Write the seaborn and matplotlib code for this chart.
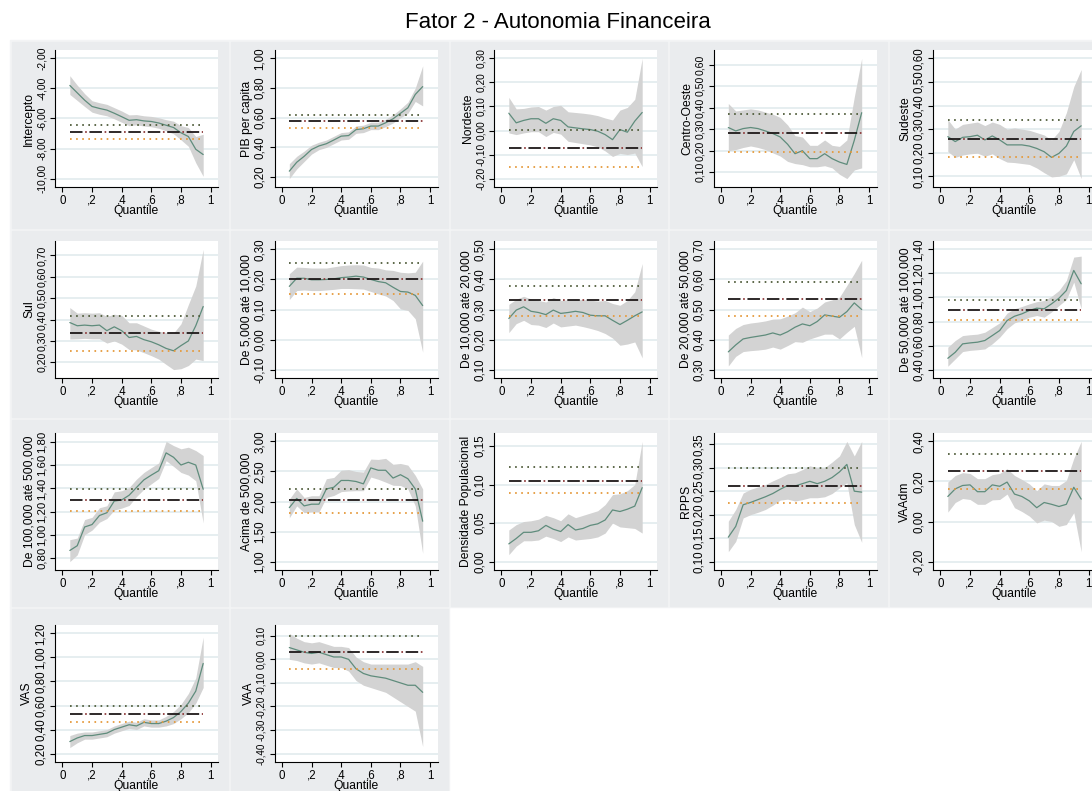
import numpy as np
import pandas as pd
import matplotlib
matplotlib.use("Agg")
import matplotlib.pyplot as plt
from matplotlib.patches import Rectangle
import seaborn as sns

# ---------------------------------------------------------------- data
QUANTILES = [0.05, 0.10, 0.15, 0.20, 0.25, 0.30, 0.35, 0.40, 0.45, 0.50,
             0.55, 0.60, 0.65, 0.70, 0.75, 0.80, 0.85, 0.90, 0.95]

LABELS = ["Intercepto", "PIB per capita", "Nordeste", "Centro-Oeste", "Sudeste",
          "Sul", "De 5,000 até 10,000", "De 10,000 até 20,000", "De 20,000 até 50,000",
          "De 50,000 até 100,000", "De 100,000 até 500,000", "Acima de 500,000",
          "Densidade Populacional", "RPPS", "VAAdm", "VAS", "VAA"]

# OLS estimate and its confidence interval, one entry per variable
OLS_COEF = [-6.91, 0.580, -0.073, 0.283, 0.260, 0.335, 0.202, 0.331, 0.535, 0.894,
            1.300, 2.017, 0.104, 0.261, 0.251, 0.530, 0.030]
OLS_LO = [-7.36, 0.528, -0.150, 0.194, 0.181, 0.251, 0.152, 0.279, 0.479, 0.814,
          1.201, 1.814, 0.089, 0.225, 0.163, 0.460, -0.040]
OLS_HI = [-6.42, 0.620, 0.003, 0.370, 0.337, 0.417, 0.256, 0.379, 0.592, 0.978,
          1.393, 2.209, 0.123, 0.299, 0.337, 0.600, 0.100]

YTICKS = [
    [-10, -8, -6, -4, -2],
    [0.2, 0.4, 0.6, 0.8, 1.0],
    [-0.2, -0.1, 0.0, 0.1, 0.2, 0.3],
    [0.1, 0.2, 0.3, 0.4, 0.5, 0.6],
    [0.1, 0.2, 0.3, 0.4, 0.5, 0.6],
    [0.2, 0.3, 0.4, 0.5, 0.6, 0.7],
    [-0.1, 0.0, 0.1, 0.2, 0.3],
    [0.1, 0.2, 0.3, 0.4, 0.5],
    [0.3, 0.4, 0.5, 0.6, 0.7],
    [0.4, 0.6, 0.8, 1.0, 1.2, 1.4],
    [0.8, 1.0, 1.2, 1.4, 1.6, 1.8],
    [1.0, 1.5, 2.0, 2.5, 3.0],
    [0.0, 0.05, 0.10, 0.15],
    [0.10, 0.15, 0.20, 0.25, 0.30, 0.35],
    [-0.2, 0.0, 0.2, 0.4],
    [0.2, 0.4, 0.6, 0.8, 1.0, 1.2],
    [-0.4, -0.3, -0.2, -0.1, 0.0, 0.1],
]

# quantile-regression coefficients with lower / upper confidence bounds
intercepto = [-3.80, -4.29, -4.78, -5.20, -5.33, -5.44, -5.65, -5.88, -6.12, -6.08, -6.16, -6.20, -6.30, -6.45, -6.60, -6.95, -7.20, -8.05, -8.40]
intercepto_lo = [-4.40, -4.80, -5.20, -5.58, -5.72, -5.82, -6.02, -6.25, -6.48, -6.42, -6.50, -6.55, -6.65, -6.82, -7.02, -7.42, -7.85, -8.95, -9.85]
intercepto_hi = [-3.15, -3.78, -4.35, -4.82, -4.95, -5.06, -5.28, -5.50, -5.76, -5.74, -5.82, -5.86, -5.95, -6.08, -6.18, -6.48, -6.60, -7.20, -7.05]

pib = [0.24, 0.30, 0.34, 0.386, 0.41, 0.425, 0.45, 0.476, 0.48, 0.52, 0.526, 0.544, 0.544, 0.566, 0.593, 0.63, 0.667, 0.757, 0.81]
pib_lo = [0.19, 0.255, 0.305, 0.355, 0.385, 0.40, 0.425, 0.45, 0.455, 0.495, 0.50, 0.52, 0.52, 0.54, 0.565, 0.60, 0.63, 0.71, 0.68]
pib_hi = [0.29, 0.34, 0.375, 0.415, 0.435, 0.45, 0.475, 0.50, 0.505, 0.545, 0.55, 0.57, 0.57, 0.59, 0.62, 0.66, 0.705, 0.80, 0.95]

nordeste = [0.072, 0.032, 0.042, 0.049, 0.049, 0.030, 0.049, 0.042, 0.015, 0.011, 0.007, 0.004, -0.003, -0.017, -0.038, 0.004, -0.007, 0.039, 0.075]
nordeste_lo = [-0.010, -0.017, -0.010, -0.005, -0.005, -0.025, -0.008, -0.015, -0.045, -0.050, -0.055, -0.060, -0.068, -0.085, -0.108, -0.095, -0.100, -0.094, -0.150]
nordeste_hi = [0.138, 0.090, 0.092, 0.098, 0.100, 0.085, 0.100, 0.105, 0.078, 0.075, 0.072, 0.068, 0.062, 0.052, 0.044, 0.085, 0.096, 0.130, 0.300]

centro_oeste = [0.308, 0.292, 0.303, 0.308, 0.303, 0.292, 0.280, 0.264, 0.230, 0.186, 0.200, 0.163, 0.163, 0.186, 0.163, 0.147, 0.136, 0.248, 0.377]
centro_oeste_lo = [0.200, 0.205, 0.215, 0.222, 0.215, 0.205, 0.190, 0.175, 0.150, 0.140, 0.135, 0.125, 0.125, 0.130, 0.120, 0.090, 0.070, 0.110, 0.120]
centro_oeste_hi = [0.420, 0.385, 0.390, 0.395, 0.390, 0.380, 0.370, 0.355, 0.320, 0.270, 0.264, 0.225, 0.225, 0.250, 0.225, 0.220, 0.250, 0.450, 0.630]

sudeste = [0.268, 0.247, 0.265, 0.268, 0.274, 0.254, 0.271, 0.254, 0.233, 0.233, 0.233, 0.228, 0.218, 0.204, 0.180, 0.197, 0.228, 0.290, 0.314]
sudeste_lo = [0.205, 0.180, 0.190, 0.195, 0.198, 0.185, 0.195, 0.175, 0.160, 0.158, 0.154, 0.150, 0.135, 0.115, 0.097, 0.100, 0.110, 0.170, 0.090]
sudeste_hi = [0.340, 0.300, 0.320, 0.325, 0.330, 0.315, 0.330, 0.320, 0.300, 0.305, 0.300, 0.295, 0.285, 0.275, 0.254, 0.290, 0.370, 0.480, 0.553]

sul = [0.386, 0.371, 0.374, 0.371, 0.374, 0.348, 0.366, 0.348, 0.316, 0.321, 0.306, 0.296, 0.282, 0.265, 0.254, 0.278, 0.300, 0.371, 0.461]
sul_lo = [0.309, 0.310, 0.312, 0.310, 0.310, 0.290, 0.300, 0.285, 0.260, 0.258, 0.245, 0.231, 0.215, 0.190, 0.166, 0.170, 0.185, 0.215, 0.208]
sul_hi = [0.456, 0.430, 0.432, 0.430, 0.432, 0.415, 0.425, 0.420, 0.385, 0.385, 0.370, 0.355, 0.345, 0.340, 0.337, 0.380, 0.470, 0.557, 0.728]

pop_5_10 = [0.177, 0.204, 0.204, 0.199, 0.199, 0.200, 0.202, 0.206, 0.208, 0.211, 0.208, 0.200, 0.193, 0.189, 0.174, 0.160, 0.158, 0.147, 0.113]
pop_5_10_lo = [0.133, 0.163, 0.165, 0.163, 0.163, 0.165, 0.167, 0.170, 0.170, 0.169, 0.168, 0.160, 0.152, 0.145, 0.130, 0.102, 0.097, 0.069, -0.042]
pop_5_10_hi = [0.219, 0.241, 0.240, 0.238, 0.238, 0.238, 0.242, 0.246, 0.248, 0.249, 0.248, 0.240, 0.238, 0.232, 0.230, 0.224, 0.222, 0.224, 0.261]

pop_10_20 = [0.270, 0.298, 0.309, 0.294, 0.290, 0.283, 0.298, 0.287, 0.290, 0.294, 0.290, 0.281, 0.279, 0.279, 0.264, 0.250, 0.264, 0.279, 0.292]
pop_10_20_lo = [0.223, 0.253, 0.264, 0.250, 0.248, 0.240, 0.255, 0.242, 0.245, 0.248, 0.243, 0.237, 0.230, 0.220, 0.205, 0.181, 0.185, 0.192, 0.139]
pop_10_20_hi = [0.317, 0.334, 0.344, 0.335, 0.330, 0.325, 0.340, 0.330, 0.332, 0.335, 0.333, 0.331, 0.328, 0.330, 0.320, 0.314, 0.330, 0.359, 0.453]

pop_20_50 = [0.359, 0.382, 0.402, 0.407, 0.411, 0.415, 0.422, 0.415, 0.426, 0.441, 0.452, 0.446, 0.460, 0.482, 0.478, 0.474, 0.493, 0.522, 0.500]
pop_20_50_lo = [0.312, 0.344, 0.360, 0.363, 0.365, 0.368, 0.375, 0.368, 0.380, 0.393, 0.391, 0.402, 0.410, 0.418, 0.418, 0.402, 0.424, 0.444, 0.340]
pop_20_50_hi = [0.415, 0.437, 0.450, 0.455, 0.458, 0.462, 0.468, 0.469, 0.478, 0.489, 0.508, 0.493, 0.505, 0.525, 0.532, 0.541, 0.580, 0.620, 0.664]

pop_50_100 = [0.494, 0.544, 0.614, 0.622, 0.628, 0.642, 0.683, 0.725, 0.808, 0.844, 0.864, 0.892, 0.911, 0.906, 0.947, 0.994, 1.058, 1.225, 1.114]
pop_50_100_lo = [0.428, 0.489, 0.550, 0.560, 0.565, 0.572, 0.615, 0.669, 0.740, 0.789, 0.810, 0.836, 0.850, 0.836, 0.880, 0.933, 0.983, 1.128, 0.906]
pop_50_100_hi = [0.586, 0.642, 0.683, 0.690, 0.695, 0.711, 0.750, 0.789, 0.870, 0.906, 0.925, 0.947, 0.965, 0.975, 1.010, 1.058, 1.142, 1.336, 1.344]

pop_100_500 = [0.864, 0.905, 1.067, 1.088, 1.166, 1.190, 1.291, 1.300, 1.341, 1.408, 1.474, 1.515, 1.553, 1.707, 1.669, 1.602, 1.626, 1.602, 1.393]
pop_100_500_lo = [0.768, 0.826, 1.000, 1.040, 1.108, 1.140, 1.213, 1.230, 1.253, 1.330, 1.393, 1.440, 1.486, 1.640, 1.590, 1.538, 1.515, 1.466, 1.102]
pop_100_500_hi = [0.957, 0.971, 1.131, 1.150, 1.233, 1.250, 1.370, 1.380, 1.408, 1.480, 1.538, 1.580, 1.620, 1.806, 1.770, 1.742, 1.756, 1.727, 1.684]

pop_500 = [1.898, 2.051, 1.927, 1.955, 1.955, 2.209, 2.237, 2.350, 2.350, 2.333, 2.294, 2.559, 2.520, 2.520, 2.390, 2.446, 2.379, 2.209, 1.672]
pop_500_lo = [1.729, 1.927, 1.814, 1.825, 1.825, 2.068, 2.100, 2.164, 2.175, 2.180, 2.180, 2.407, 2.370, 2.322, 2.270, 2.266, 2.209, 1.927, 1.136]
pop_500_hi = [2.040, 2.209, 2.068, 2.096, 2.096, 2.379, 2.400, 2.520, 2.530, 2.500, 2.490, 2.706, 2.700, 2.718, 2.620, 2.633, 2.605, 2.435, 2.209]

densidade = [0.023, 0.030, 0.038, 0.038, 0.040, 0.047, 0.042, 0.039, 0.048, 0.041, 0.043, 0.047, 0.049, 0.054, 0.067, 0.065, 0.068, 0.072, 0.096]
densidade_lo = [0.009, 0.020, 0.027, 0.027, 0.028, 0.033, 0.030, 0.026, 0.032, 0.028, 0.029, 0.030, 0.032, 0.037, 0.050, 0.045, 0.044, 0.043, 0.037]
densidade_hi = [0.041, 0.048, 0.052, 0.053, 0.055, 0.060, 0.057, 0.053, 0.062, 0.057, 0.060, 0.063, 0.066, 0.074, 0.087, 0.088, 0.092, 0.100, 0.156]

rpps = [0.152, 0.175, 0.221, 0.226, 0.232, 0.238, 0.245, 0.254, 0.262, 0.261, 0.266, 0.271, 0.266, 0.271, 0.279, 0.291, 0.307, 0.250, 0.248]
rpps_lo = [0.121, 0.143, 0.193, 0.200, 0.205, 0.211, 0.220, 0.231, 0.233, 0.229, 0.232, 0.236, 0.236, 0.238, 0.245, 0.257, 0.268, 0.179, 0.141]
rpps_hi = [0.186, 0.211, 0.246, 0.254, 0.259, 0.264, 0.272, 0.279, 0.287, 0.289, 0.296, 0.304, 0.300, 0.300, 0.312, 0.325, 0.356, 0.325, 0.356]

vaadm = [0.125, 0.163, 0.180, 0.183, 0.149, 0.149, 0.183, 0.176, 0.197, 0.137, 0.125, 0.103, 0.069, 0.095, 0.086, 0.075, 0.086, 0.171, 0.112]
vaadm_lo = [0.047, 0.095, 0.115, 0.110, 0.086, 0.086, 0.108, 0.110, 0.137, 0.069, 0.050, 0.027, -0.007, 0.007, 0.000, -0.024, -0.015, 0.044, -0.151]
vaadm_hi = [0.197, 0.230, 0.244, 0.240, 0.214, 0.214, 0.234, 0.240, 0.264, 0.230, 0.210, 0.188, 0.154, 0.188, 0.180, 0.180, 0.205, 0.315, 0.400]

vas = [0.30, 0.33, 0.35, 0.35, 0.36, 0.37, 0.40, 0.42, 0.44, 0.43, 0.46, 0.45, 0.45, 0.47, 0.50, 0.55, 0.62, 0.72, 0.95]
vas_lo = [0.25, 0.29, 0.32, 0.32, 0.33, 0.34, 0.37, 0.39, 0.41, 0.40, 0.43, 0.42, 0.42, 0.43, 0.45, 0.49, 0.54, 0.62, 0.75]
vas_hi = [0.35, 0.37, 0.38, 0.38, 0.39, 0.40, 0.43, 0.45, 0.47, 0.46, 0.49, 0.48, 0.48, 0.51, 0.55, 0.61, 0.70, 0.83, 1.17]

vaa = [0.05, 0.04, 0.03, 0.025, 0.03, 0.02, 0.01, 0.01, 0.00, -0.04, -0.06, -0.07, -0.075, -0.08, -0.09, -0.10, -0.11, -0.11, -0.14]
vaa_lo = [0.00, -0.005, -0.015, -0.02, -0.015, -0.025, -0.035, -0.035, -0.05, -0.09, -0.11, -0.12, -0.13, -0.14, -0.16, -0.18, -0.20, -0.22, -0.37]
vaa_hi = [0.11, 0.09, 0.075, 0.07, 0.075, 0.065, 0.055, 0.055, 0.05, 0.01, -0.01, -0.02, -0.02, -0.02, -0.02, -0.02, -0.02, -0.01, -0.03]

SERIES = [
    (intercepto, intercepto_lo, intercepto_hi),
    (pib, pib_lo, pib_hi),
    (nordeste, nordeste_lo, nordeste_hi),
    (centro_oeste, centro_oeste_lo, centro_oeste_hi),
    (sudeste, sudeste_lo, sudeste_hi),
    (sul, sul_lo, sul_hi),
    (pop_5_10, pop_5_10_lo, pop_5_10_hi),
    (pop_10_20, pop_10_20_lo, pop_10_20_hi),
    (pop_20_50, pop_20_50_lo, pop_20_50_hi),
    (pop_50_100, pop_50_100_lo, pop_50_100_hi),
    (pop_100_500, pop_100_500_lo, pop_100_500_hi),
    (pop_500, pop_500_lo, pop_500_hi),
    (densidade, densidade_lo, densidade_hi),
    (rpps, rpps_lo, rpps_hi),
    (vaadm, vaadm_lo, vaadm_hi),
    (vas, vas_lo, vas_hi),
    (vaa, vaa_lo, vaa_hi),
]

XTICKS = [0, 0.2, 0.4, 0.6, 0.8, 1.0]
XTICKLABELS = ["0", ",2", ",4", ",6", ",8", "1"]

# ---------------------------------------------------------------- style
sns.set_theme(style="white")
plt.rcParams["font.family"] = ["Liberation Sans", "DejaVu Sans"]
plt.rcParams["lines.scale_dashes"] = False

W, H, DPI = 1092, 791, 100
BG = "#EAECEE"
SEP = "#F3F4F5"
BAND = "#D3D3D3"
QLINE = "#5F8C7C"
OLS_DARK = "#1E1818"
OLS_DOT = "#8E3A3A"
CI_UP = "#4F5C3A"
CI_DN = "#E59A3C"
GRID = "#E2EBEE"
TICK_SIZE = 8.3

# approximate advance widths (in em) of the glyphs used in tick labels
GLYPH_EM = {"-": 0.333, ",": 0.278}


def fig_box(x, y, w, h):
    return [x / W, 1 - (y + h) / H, w / W, h / H]


def comma_fmt(v):
    return f"{v:.2f}".replace(".", ",")


def label_em(text):
    return sum(GLYPH_EM.get(ch, 0.556) for ch in text)


fig = plt.figure(figsize=(W / DPI, H / DPI), dpi=DPI)
fig.patch.set_facecolor("white")

# grey graph regions behind each panel
COL_W, ROW_EDGES = 219.5, [40, 229, 418, 607, 800]
fig.add_artist(Rectangle((10 / W, 1 - 607 / H), (W - 10) / W, 567 / H,
                         transform=fig.transFigure, color=SEP, zorder=0))
fig.add_artist(Rectangle((10 / W, 0), (2 * COL_W) / W, 184 / H,
                         transform=fig.transFigure, color=SEP, zorder=0))
for i in range(len(LABELS)):
    r, c = divmod(i, 5)
    x0 = 10 + COL_W * c
    y0, y1 = ROW_EDGES[r], ROW_EDGES[r + 1]
    fig.add_artist(Rectangle(((x0 + 1.5) / W, 1 - (y1 - 1.5) / H), (COL_W - 3) / W,
                             (y1 - y0 - 3) / H, transform=fig.transFigure,
                             color=BG, zorder=0))

PLOT_TOPS = [50, 241, 433, 625]
PLOT_W, PLOT_H = 163, 137

for i, (label, (coef, lo, hi)) in enumerate(zip(LABELS, SERIES)):
    r, c = divmod(i, 5)
    ax = fig.add_axes(fig_box(55 + COL_W * c, PLOT_TOPS[r], PLOT_W, PLOT_H))
    ax.set_facecolor("white")

    df = pd.DataFrame({"q": QUANTILES, "coef": coef, "lo": lo, "hi": hi})
    ax.fill_between(df["q"], df["lo"], df["hi"], color=BAND, lw=0, zorder=2)
    sns.lineplot(data=df, x="q", y="coef", ax=ax, color=QLINE, lw=0.9, zorder=4)

    qx = [QUANTILES[0], QUANTILES[-1]]
    ols = OLS_COEF[i]
    ax.plot(qx, [ols, ols], color=OLS_DARK, lw=1.3, ls=(0, (9.0, 5.0)), zorder=5,
            solid_capstyle="butt", dash_capstyle="butt")
    ax.plot(qx, [ols, ols], color=OLS_DOT, lw=1.3, ls=(-10.9, (1.2, 12.8)), zorder=5,
            dash_capstyle="butt")
    ax.plot(qx, [OLS_HI[i]] * 2, color=CI_UP, lw=1.3, ls=(0, (1.2, 3.2)), zorder=5)
    ax.plot(qx, [OLS_LO[i]] * 2, color=CI_DN, lw=1.3, ls=(0, (1.2, 3.2)), zorder=5)

    ticks = YTICKS[i]
    ymin = min(ticks[0], min(lo))
    ymax = max(ticks[-1], max(hi))
    pad = 0.07 * (ymax - ymin)
    ax.set_ylim(ymin - pad, ymax + pad)
    ax.set_xlim(-0.05, 1.05)

    # keep the rotated tick labels within the spacing between ticks
    tick_labels = [comma_fmt(t) for t in ticks]
    px_per_unit = PLOT_H / ((ymax - ymin) + 2 * pad)
    gap_px = (ticks[1] - ticks[0]) * px_per_unit - 1.0
    widest_em = max(label_em(t) for t in tick_labels)
    ysize = min(TICK_SIZE, gap_px / widest_em * 72 / DPI)

    ax.set_yticks(ticks)
    ax.set_yticklabels(tick_labels, rotation=90, va="center", fontsize=ysize)
    ax.set_xticks(XTICKS)
    ax.set_xticklabels(XTICKLABELS, fontsize=TICK_SIZE)

    ax.grid(axis="y", color=GRID, lw=1.2)
    ax.grid(axis="x", visible=False)
    ax.set_axisbelow(True)

    for side in ("top", "right"):
        ax.spines[side].set_visible(False)
    for side in ("left", "bottom"):
        ax.spines[side].set_color("black")
        ax.spines[side].set_linewidth(0.8)

    ax.tick_params(axis="both", which="major", direction="out", length=3.5,
                   width=0.8, color="black", labelcolor="black",
                   left=True, bottom=True)
    ax.tick_params(axis="y", pad=2.5)
    ax.tick_params(axis="x", pad=2.0)

    ax.set_ylabel(label, fontsize=8.7, labelpad=1, color="black")
    ax.set_xlabel("Quantile", fontsize=8.7, labelpad=-1, color="black")

fig.text(558 / W, 1 - 22 / H, "Fator 2 - Autonomia Financeira", fontsize=16,
         ha="center", va="center", color="black")

fig.savefig("out.png", dpi=DPI)
